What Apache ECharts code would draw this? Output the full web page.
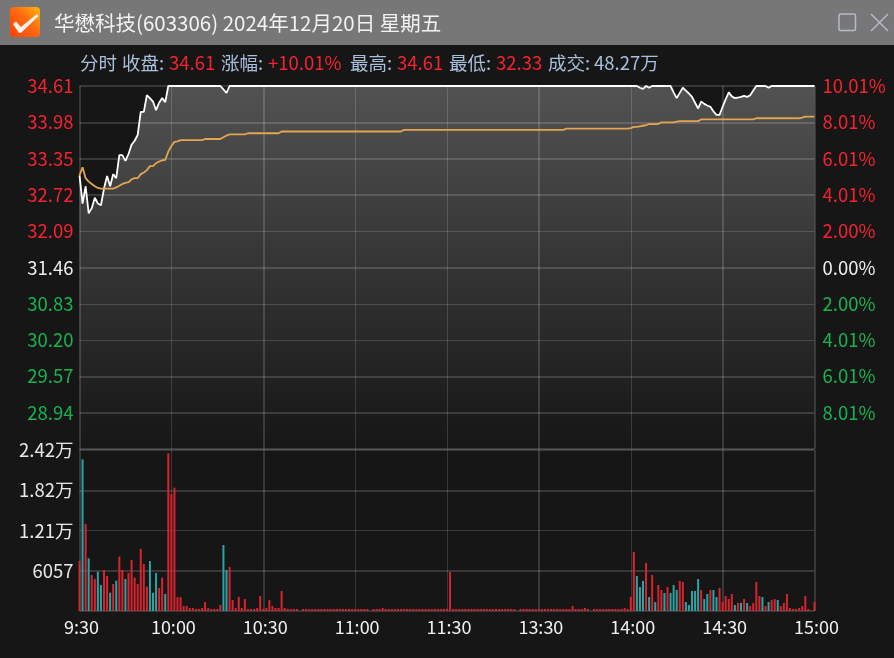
<!DOCTYPE html>
<html><head><meta charset="utf-8">
<style>html,body{margin:0;padding:0;background:#161616}#c{width:894px;height:658px}</style>
<script src="https://cdn.jsdelivr.net/npm/echarts@6/dist/echarts.min.js"></script>
</head><body><div id="c"></div>
<script>
const titleText = '华懋科技(603306) 2024年12月20日 星期五';
const headerItems = [
  ['分时', 0], ['收盘:', 0], ['34.61', 1], ['涨幅:', 0], ['+10.01%', 1],
  ['最高:', 0], ['34.61', 1], ['最低:', 0], ['32.33', 1], ['成交:', 0], ['48.27万', 2]
];
const headerX = [80, 122, 169, 221, 268, 350, 397, 449, 496, 548, 594];
const priceTicks = [34.61, 33.98, 33.35, 32.72, 32.09, 31.46, 30.83, 30.20, 29.57, 28.94];
const pctLabels = ['10.01%', '8.01%', '6.01%', '4.01%', '2.00%', '0.00%', '2.00%', '4.01%', '6.01%', '8.01%'];
const preClose = 31.46;
const volTicks = [24228, 18171, 12114, 6057];
const volTickLabels = ['2.42万', '1.82万', '1.21万', '6057'];
const timeTicks = ['9:30', '10:00', '10:30', '11:00', '11:30', '13:30', '14:00', '14:30', '15:00'];

const prices = [
33.06,32.57,32.87,32.40,32.49,32.67,32.57,32.54,32.83,33.05,
32.87,33.08,33.01,33.41,33.41,33.31,33.43,33.59,33.66,33.76,
34.16,34.16,34.45,34.40,34.34,34.19,34.32,34.40,34.33,34.61,
34.61,34.61,34.61,34.61,34.61,34.61,34.61,34.61,34.61,34.61,
34.61,34.61,34.61,34.61,34.61,34.61,34.61,34.55,34.49,34.61,
34.61,34.61,34.61,34.61,34.61,34.61,34.61,34.61,34.61,34.61,
34.61,34.61,34.61,34.61,34.61,34.61,34.61,34.61,34.61,34.61,
34.61,34.61,34.61,34.61,34.61,34.61,34.61,34.61,34.61,34.61,
34.61,34.61,34.61,34.61,34.61,34.61,34.61,34.61,34.61,34.61,
34.61,34.61,34.61,34.61,34.61,34.61,34.61,34.61,34.61,34.61,
34.61,34.61,34.61,34.61,34.61,34.61,34.61,34.61,34.61,34.61,
34.61,34.61,34.61,34.61,34.61,34.61,34.61,34.61,34.61,34.61,
34.61,34.61,34.61,34.61,34.61,34.61,34.61,34.61,34.61,34.61,
34.61,34.61,34.61,34.61,34.61,34.61,34.61,34.61,34.61,34.61,
34.61,34.61,34.61,34.61,34.61,34.61,34.61,34.61,34.61,34.61,
34.61,34.61,34.61,34.61,34.61,34.61,34.61,34.61,34.61,34.61,
34.61,34.61,34.61,34.61,34.61,34.61,34.61,34.61,34.61,34.61,
34.61,34.61,34.61,34.61,34.61,34.61,34.61,34.61,34.61,34.61,
34.61,34.61,34.61,34.58,34.56,34.61,34.58,34.61,34.61,34.61,
34.61,34.61,34.61,34.61,34.50,34.40,34.49,34.58,34.53,34.48,
34.42,34.32,34.22,34.34,34.30,34.27,34.25,34.17,34.11,34.11,
34.25,34.38,34.50,34.43,34.40,34.41,34.42,34.44,34.42,34.45,
34.53,34.61,34.61,34.61,34.61,34.58,34.61,34.61,34.61,34.61,
34.61,34.61,34.61,34.61,34.61,34.61,34.61,34.61,34.61,34.61,
34.61];

const avgPrices = [
33.06,33.20,33.01,32.95,32.91,32.87,32.84,32.83,32.83,32.83,
32.83,32.83,32.85,32.88,32.91,32.93,32.94,32.99,33.01,33.01,
33.08,33.11,33.15,33.22,33.22,33.27,33.30,33.32,33.33,33.47,
33.57,33.64,33.65,33.67,33.67,33.67,33.67,33.67,33.67,33.67,
33.67,33.69,33.69,33.69,33.69,33.69,33.69,33.72,33.75,33.77,
33.77,33.77,33.77,33.77,33.77,33.79,33.79,33.79,33.79,33.79,
33.79,33.79,33.79,33.79,33.79,33.79,33.82,33.82,33.82,33.82,
33.82,33.82,33.82,33.82,33.82,33.82,33.82,33.82,33.82,33.82,
33.82,33.82,33.82,33.82,33.82,33.82,33.82,33.82,33.82,33.82,
33.82,33.82,33.82,33.82,33.82,33.82,33.82,33.82,33.82,33.82,
33.82,33.82,33.82,33.82,33.82,33.82,33.85,33.85,33.85,33.85,
33.85,33.85,33.85,33.85,33.85,33.85,33.85,33.85,33.85,33.85,
33.85,33.85,33.85,33.85,33.85,33.85,33.85,33.85,33.85,33.85,
33.85,33.85,33.85,33.85,33.85,33.85,33.85,33.85,33.85,33.85,
33.85,33.85,33.85,33.85,33.85,33.85,33.85,33.85,33.85,33.85,
33.85,33.85,33.85,33.85,33.85,33.85,33.85,33.85,33.85,33.87,
33.87,33.87,33.87,33.87,33.87,33.87,33.87,33.87,33.87,33.87,
33.87,33.87,33.87,33.87,33.87,33.87,33.87,33.87,33.87,33.87,
33.88,33.90,33.90,33.91,33.92,33.93,33.95,33.95,33.95,33.95,
33.98,33.98,33.98,33.98,33.98,33.99,34.00,34.00,34.00,34.00,
34.00,34.00,34.00,34.03,34.03,34.03,34.03,34.03,34.03,34.03,
34.03,34.03,34.03,34.03,34.03,34.03,34.03,34.03,34.03,34.03,
34.03,34.05,34.05,34.05,34.05,34.05,34.05,34.05,34.05,34.05,
34.05,34.05,34.05,34.05,34.05,34.05,34.06,34.08,34.08,34.08,
34.08];

const volumes = [
7525,22830,13090,7930,5420,4815,5920,3910,6170,5270,
2760,4060,4560,8180,6170,4815,5720,7680,5020,4060,
9330,7070,3660,7525,2760,5720,3460,5020,2560,23730,
17600,18560,2100,2100,750,750,450,450,300,300,
450,1350,450,300,300,300,900,9930,6170,6620,
1650,450,2100,450,1800,300,300,300,450,2260,
300,450,1650,750,450,450,3010,450,300,300,
300,300,0,300,300,300,300,300,300,300,
300,300,300,300,300,300,300,300,300,300,
300,300,300,300,300,0,300,300,300,450,
300,300,300,300,300,300,300,300,300,300,
300,300,300,300,300,300,300,300,300,300,
300,5870,300,300,300,300,300,300,300,300,
300,300,300,300,300,300,300,300,300,300,
300,300,300,0,300,300,300,300,300,300,
300,300,300,300,300,300,300,300,300,300,
300,750,300,300,300,450,300,0,300,300,
300,300,300,300,300,300,300,300,450,300,
2100,8880,5270,3610,4515,7220,2100,5420,1350,3910,
3160,2710,3610,2710,3910,3160,4515,4360,1350,900,
3010,3010,4815,3160,1800,2560,3160,3160,2100,3460,
1350,2260,1800,2560,900,1200,1200,1800,1200,750,
1200,4360,2260,2100,750,1350,1650,1800,1650,750,
1200,2560,450,300,300,450,750,2260,300,0,
1350];
const fallingBars = [1,3,6,7,10,12,15,23,24,25,28,47,48,182,183,184,186,188,191,193,194,195,198,199,200,201,202,204,205,207,208,214,216,218,223,225,228];
const thickTimeIdx = [0,60,150,210,240];
const thinTimeIdx = [30,90,120,180];
const thickPriceLines = [34.61,33.98,33.35,32.72,31.46,29.57,28.94,28.31];
const thinPriceLines = [32.09,30.83,30.20];

const FONT = '"Noto Sans CJK SC","Noto Sans",sans-serif';
const RED = '#f5222f', GREEN = '#17b350', WHITE = '#eeeeee';
const GRID = 'rgba(255,255,255,0.15)';

const categories = prices.map((_, i) => i);
const tickLabel = v => timeTicks[v / 30];

const chart = echarts.init(document.getElementById('c'), null, {renderer: 'canvas'});

const headerColor2 = ['#a9bfdc', RED, '#a9bfdc'];
const graphics = [
  {type:'rect', silent:true, z:-1, shape:{x:0,y:0,width:894,height:45}, style:{fill:'#777777'}},
  {type:'rect', silent:true, shape:{x:10,y:7,width:30,height:30,r:4},
   style:{fill:new echarts.graphic.LinearGradient(1,0,0,1,[{offset:0,color:'#ffb60a'},{offset:0.45,color:'#ff6a12'},{offset:1,color:'#ff4000'}])}},
  {type:'polygon', silent:true, shape:{points:[[13,24],[16,21.5],[21,27],[37,14],[38.5,16],[21,33],[19,33]]}, style:{fill:'#ffffff',opacity:0.92}},
  {type:'text', silent:true, x:54, y:23, style:{text:titleText, fill:'#f2f2f2', font:'20.5px '+FONT, textVerticalAlign:'middle', textAlign:'left'}},
  {type:'rect', silent:true, shape:{x:839,y:14,width:16.5,height:16.5,r:1.5}, style:{fill:'none',stroke:'#b4bcc9',lineWidth:1.5}},
  {type:'line', silent:true, shape:{x1:871,y1:14,x2:888,y2:31}, style:{stroke:'#b4bcc9',lineWidth:1.5}},
  {type:'line', silent:true, shape:{x1:888,y1:14,x2:871,y2:31}, style:{stroke:'#b4bcc9',lineWidth:1.5}}
];
headerItems.forEach((h, i) => graphics.push({
  type:'text', silent:true, x:headerX[i], y:63,
  style:{text:h[0], fill:headerColor2[h[1]], font:'18.5px '+FONT, textVerticalAlign:'middle', textAlign:'left'}
}));

const priceColor = v => Math.abs(v - preClose) < 0.001 ? WHITE : (v > preClose ? RED : GREEN);
const priceIdx = v => priceTicks.findIndex(t => Math.abs(t - v) < 0.001);
const AXZ = 2;

const baseX = (grid, list) => ({
  type:'category', gridIndex:grid, data:categories, boundaryGap:false, z:AXZ,
  axisLine:{show:false}, axisTick:{show:false}, axisLabel:{show:false},
  splitLine:{show:true, showMinLine:true, showMaxLine:true, interval:(i)=>list.includes(i),
             lineStyle:{color:GRID, width:list===thickTimeIdx?2:1}}
});
const xBottom = baseX(1, thickTimeIdx);
xBottom.axisLabel = {show:true, interval:(i)=>i%30===0, formatter:tickLabel, color:'#f0f0f0', fontSize:18, margin:7,
                     padding:[0,0,0,4], fontFamily:FONT, hideOverlap:false};

chart.setOption({
  animation:false,
  backgroundColor:'#161616',
  graphic:graphics,
  textStyle:{fontFamily:FONT},
  grid:[
    {left:79.5, top:86, width:735, height:363},
    {left:79.5, top:450, width:735, height:161}
  ],
  xAxis:[ baseX(0, thickTimeIdx), xBottom, baseX(0, thinTimeIdx), baseX(1, thinTimeIdx) ],
  yAxis:[
    {type:'value', gridIndex:0, position:'left', min:28.31, max:34.61, scale:true, z:AXZ,
     axisLine:{show:false}, axisTick:{show:false, customValues:thickPriceLines},
     axisLabel:{show:true, customValues:priceTicks, margin:6, fontSize:18.5, fontFamily:FONT, align:'right',
       formatter:v=>v.toFixed(2), color:priceColor},
     splitLine:{show:true, lineStyle:{color:GRID,width:2}}},
    {type:'value', gridIndex:0, position:'right', min:28.31, max:34.61, scale:true, z:AXZ,
     axisLine:{show:false}, axisTick:{show:false, customValues:thinPriceLines},
     axisLabel:{show:true, customValues:priceTicks, margin:8, fontSize:18.5, fontFamily:FONT, align:'left',
       formatter:v=>pctLabels[priceIdx(v)], color:priceColor},
     splitLine:{show:true, lineStyle:{color:GRID,width:1}}},
    {type:'value', gridIndex:1, position:'left', min:0, max:24228, z:AXZ,
     axisLine:{show:false}, axisTick:{show:false, customValues:[0,6057,18171,24228]},
     axisLabel:{show:true, customValues:volTicks, margin:6, fontSize:18.5, fontFamily:FONT, align:'right', color:'#e8e8e8',
       formatter:v=>volTickLabels[volTicks.indexOf(v)]},
     splitLine:{show:true, lineStyle:{color:GRID,width:2}}},
    {type:'value', gridIndex:1, position:'right', min:0, max:24228, z:AXZ,
     axisLine:{show:false}, axisTick:{show:false, customValues:[12114]}, axisLabel:{show:false},
     splitLine:{show:true, lineStyle:{color:GRID,width:1}}}
  ],
  series:[
    {type:'line', name:'收盘区域', xAxisIndex:0, yAxisIndex:0, data:prices, symbol:'none', z:1,
     lineStyle:{width:0},
     areaStyle:{origin:'start', opacity:1, color:new echarts.graphic.LinearGradient(0,0,0,1,[{offset:0,color:'#525252'},{offset:1,color:'#161616'}])}},
    {type:'line', name:'收盘', xAxisIndex:0, yAxisIndex:0, data:prices, symbol:'none', clip:false, z:5,
     lineStyle:{color:'#ffffff',width:1.8}},
    {type:'line', name:'均价', xAxisIndex:0, yAxisIndex:0, data:avgPrices, symbol:'none', clip:false, z:6,
     lineStyle:{color:'#e3a550',width:1.8}},
    {type:'bar', name:'成交量', xAxisIndex:1, yAxisIndex:2, barWidth:2, clip:false, z:5,
     data:volumes.map((v,i)=>({value:v, itemStyle:{color: fallingBars.includes(i) ? '#2ba4a6' : '#d8242f'}}))}
  ]
});
</script></body></html>
